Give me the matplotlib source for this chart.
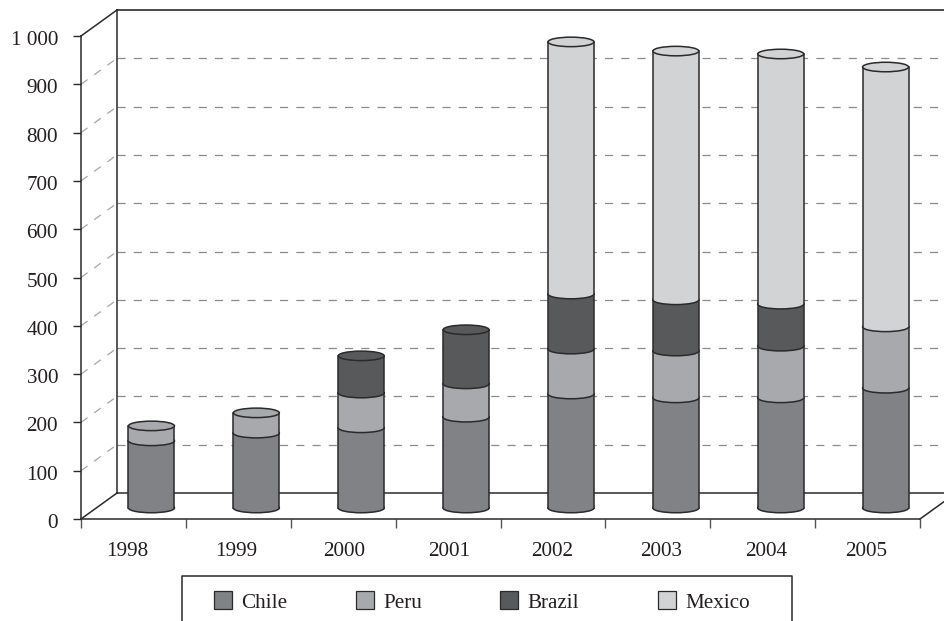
import matplotlib
matplotlib.use('Agg')
import matplotlib.pyplot as plt
import matplotlib.transforms as mtrans
import numpy as np
from matplotlib.patches import Ellipse, Rectangle

# Values
years = ['1998', '1999', '2000', '2001', '2002', '2003', '2004', '2005']
chile = [139, 155, 166, 188, 236, 228, 228, 248]
peru = [31, 42, 72, 69, 93, 97, 107, 127]
brazil = [0, 0, 77, 112, 114, 106, 87, 0]
mexico = [0, 0, 0, 0, 522, 515, 518, 538]
series_names = ['Chile', 'Peru', 'Brazil', 'Mexico']
series_colors = ['#808285', '#A7A9AC', '#58595B', '#D1D3D4']
y_ticks = [0, 100, 200, 300, 400, 500, 600, 700, 800, 900, 1000]
y_labels = ['0', '100', '200', '300', '400', '500', '600', '700', '800', '900', '1 000']

W, H = 945, 621
LINE = '#2b2a2b'
TEXT = 15.2
plt.rcParams['font.family'] = ['Liberation Serif', 'DejaVu Serif']

fig = plt.figure(figsize=(W / 100, H / 100), dpi=100, facecolor='white')

# plot area in pixels of the picture
x0, x1, y_bot, y_top = 81, 920, 519, 36
ax = fig.add_axes([x0 / W, 1 - y_bot / H, (x1 - x0) / W, (y_bot - y_top) / H])
ax.set_xlim(0, 8)
ax.set_ylim(0, 1000)
ax.patch.set_alpha(0)

# conversion of the 3d depth to data units
px_x = 8 / (x1 - x0)
px_y = 1000 / (y_bot - y_top)
dx, dy = 36 * px_x, 26 * px_y

# walls and gridlines
kw = dict(clip_on=False, zorder=1)
for v in y_ticks[1:-1]:
    ax.plot([0, dx], [v, v + dy], color='#a5a6a8', lw=0.9, dashes=(6.5, 6.5), **kw)
    ax.plot([dx, 8 + dx], [v + dy, v + dy], color='#8a8b8d', lw=0.9, dashes=(6.5, 6.5), **kw)
ax.plot([dx, dx], [dy, 1000 + dy], color=LINE, lw=1.1, **kw)
ax.plot([dx, 8 + dx], [1000 + dy, 1000 + dy], color=LINE, lw=1.2, **kw)
ax.plot([dx, 8 + dx], [dy, dy], color=LINE, lw=1.1, **kw)
ax.plot([0, dx], [1000, 1000 + dy], color=LINE, lw=1.1, **kw)
ax.plot([0, dx], [0, dy], color=LINE, lw=1.1, **kw)
ax.plot([8, 8 + dx], [0, dy], color=LINE, lw=1.1, **kw)

# cylinders
bar_w = 46 * px_x
ell_h = 9.5 * px_y
base = 11 * px_y
centers = np.arange(8) + 0.672
stack = [chile, peru, brazil, mexico]
for i, xc in enumerate(centers):
    bottom = base
    color = None
    for vals, color_i in zip(stack, series_colors):
        v = vals[i]
        if v == 0:
            continue
        color = color_i
        ax.add_patch(Ellipse((xc, bottom), bar_w, ell_h, fc=color, ec=LINE, lw=1.1, zorder=3))
        ax.add_patch(Rectangle((xc - bar_w / 2, bottom), bar_w, v, fc=color, ec='none', zorder=3))
        ax.plot([xc - bar_w / 2] * 2, [bottom, bottom + v], color=LINE, lw=1.1, zorder=3)
        ax.plot([xc + bar_w / 2] * 2, [bottom, bottom + v], color=LINE, lw=1.1, zorder=3)
        bottom += v
    ax.add_patch(Ellipse((xc, bottom), bar_w, ell_h, fc=color, ec=LINE, lw=1.1, zorder=4))

# axes
for s in ['top', 'right']:
    ax.spines[s].set_visible(False)
for s in ['left', 'bottom']:
    ax.spines[s].set_color(LINE)
    ax.spines[s].set_linewidth(1.1)
    ax.spines[s].set_zorder(2)
ax.set_yticks(y_ticks)
ax.set_yticklabels(y_labels, fontsize=TEXT, color='#231f20')
ax.tick_params(axis='y', length=6, width=1, color=LINE, pad=10.5)
shift = mtrans.ScaledTranslation(0, -1.5 / 72, fig.dpi_scale_trans)
for lab in ax.get_yticklabels():
    lab.set_transform(lab.get_transform() + shift)
ax.set_xticks(np.arange(9))
ax.set_xticklabels([])
ax.tick_params(axis='x', length=6.5, width=1, color='#555555', direction='out')

# year labels sit off-centre in the original
label_px = [127, 236, 344, 449, 552, 661, 766, 866]
for name, xp in zip(years, label_px):
    fig.text(xp / W, 1 - 551 / H, name, fontsize=TEXT, ha='center', va='center', color='#231f20')

# legend box, cut by the bottom edge of the picture
fig.add_artist(plt.Line2D([182 / W, 182 / W, 792 / W, 792 / W],
                          [0, 1 - 576 / H, 1 - 576 / H, 0], color=LINE, lw=1.1))
patch_px = [214, 356, 500, 658]
for name, color, xp in zip(series_names, series_colors, patch_px):
    fig.add_artist(Rectangle((xp / W, 1 - 609 / H), 18 / W, 18 / H, fc=color, ec=LINE, lw=0.9,
                             transform=fig.transFigure))
    fig.text((xp + 27) / W, 1 - 603 / H, name, fontsize=TEXT, ha='left', va='center', color='#231f20')

fig.savefig('out.png', dpi=100)
plt.close(fig)
